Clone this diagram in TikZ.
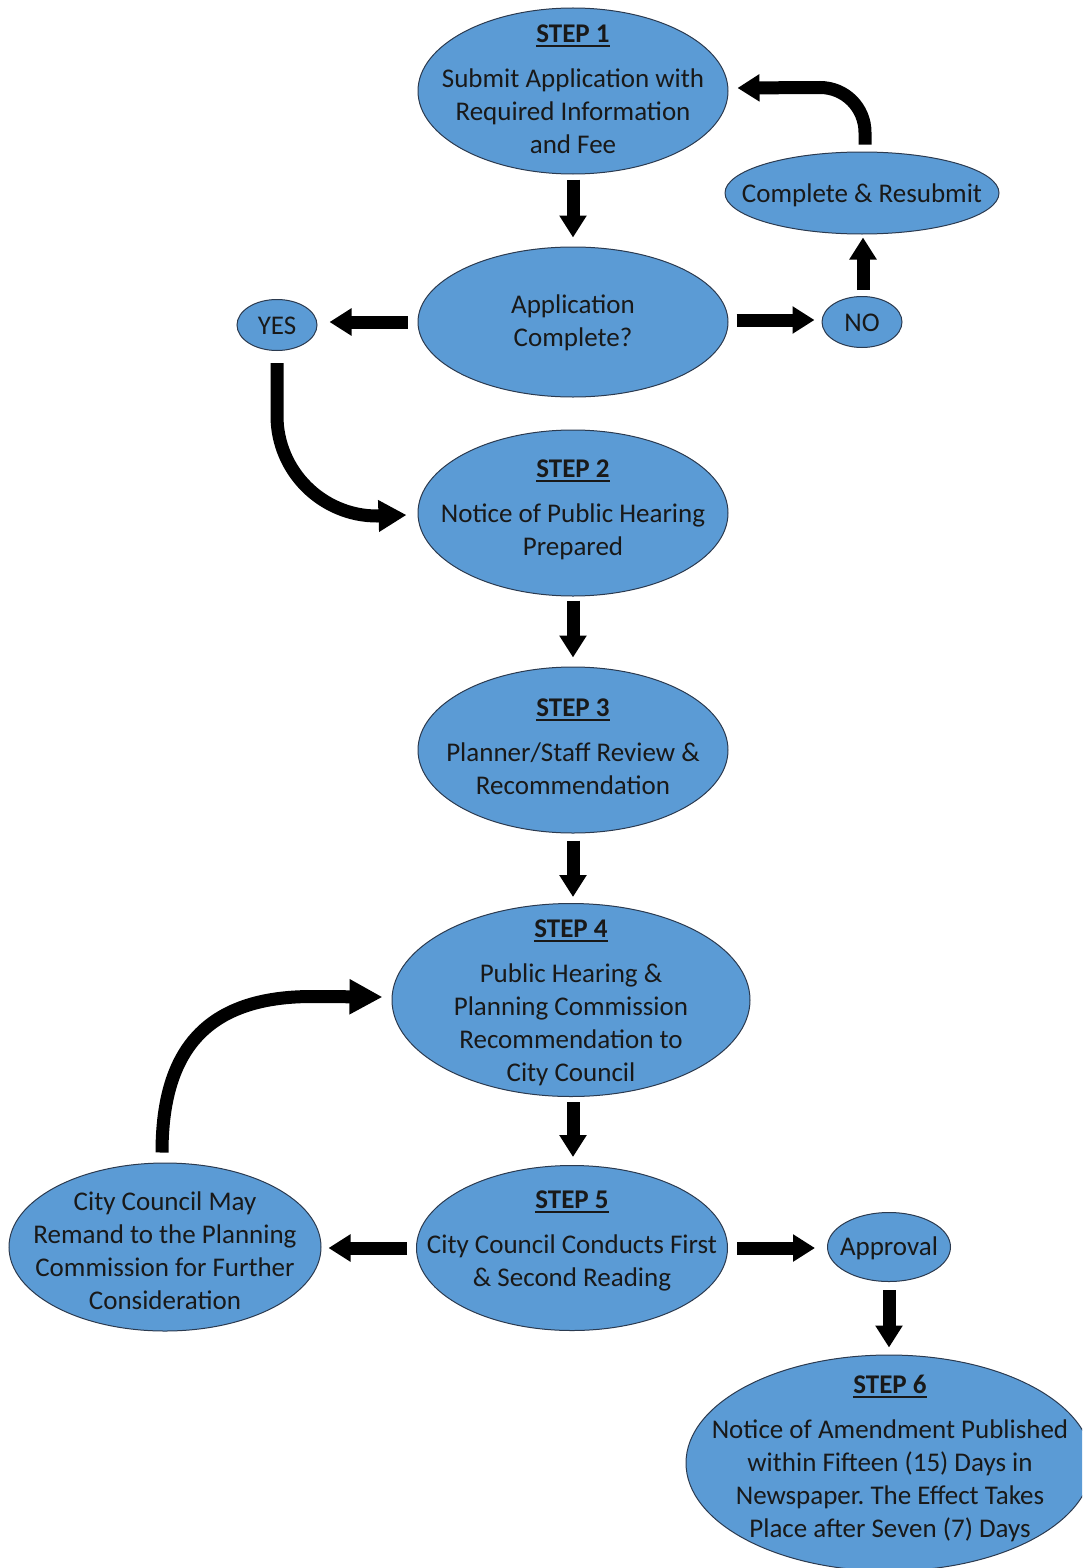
\documentclass[tikz,border=0pt]{standalone}
\usepackage{fontspec}
\setmainfont{Carlito}
\usetikzlibrary{arrows.meta,shapes.geometric,calc}
\definecolor{bubfill}{HTML}{5B9BD5}
\definecolor{bubline}{HTML}{2B3A4F}
\newcommand\stp[1]{\setbox0\hbox{\bfseries #1}\rlap{\rule[-4pt]{\wd0}{1.8pt}}\box0}
\frenchspacing
\begin{document}
\begin{tikzpicture}[x=1pt,y=-1pt,
  bub/.style={ellipse, draw=bubline, line width=1pt, fill=bubfill, inner sep=0pt},
  txt/.style={align=center, font=\fontsize{27}{33}\selectfont, text=black!90, inner sep=0pt, anchor=north},
  blk/.style={line width=13pt, -{Triangle[width=26pt,length=22pt]}},
  blkc/.style={line width=13pt, -{Triangle[width=30pt,length=28pt]}},
  blkr/.style={line width=13pt, -{Triangle[width=33pt,length=33pt]}}]

\useasboundingbox (0,0) rectangle (1082,1568);
\clip (0,0) rectangle (1082,1568);

% ellipses
\node[bub, minimum width=310pt, minimum height=166pt] (s1) at (573,91) {};
\node[bub, minimum width=310pt, minimum height=150pt] (app) at (573,322) {};
\node[bub, minimum width=80pt, minimum height=51pt] (yes) at (277,325) {};
\node[bub, minimum width=80pt, minimum height=51pt] (no) at (862,322) {};
\node[bub, minimum width=274pt, minimum height=82pt] (cr) at (862,193) {};
\node[bub, minimum width=310pt, minimum height=166pt] (s2) at (573,513) {};
\node[bub, minimum width=310pt, minimum height=166pt] (s3) at (573,750) {};
\node[bub, minimum width=358pt, minimum height=193pt] (s4) at (571,1000) {};
\node[bub, minimum width=311pt, minimum height=165pt] (s5) at (572,1248) {};
\node[bub, minimum width=312pt, minimum height=168pt] (rem) at (165,1247) {};
\node[bub, minimum width=123pt, minimum height=69pt] (appr) at (889,1247) {};
\node[bub, minimum width=406pt, minimum height=216pt] (s6) at (889,1463) {};

% texts
\node[txt] (t1) at (573,19.5) {\stp{STEP 1}\strut\\[12pt]Submit Application with\\Required Information\\and Fee};
\node[txt] (tapp) at (573,290.5) {Application\strut\\Complete?};
\node[txt] (tyes) at (277,311.5) {YES\strut};
\node[txt] (tno) at (862,308.5) {NO\strut};
\node[txt] (tcr) at (862,179.5) {Complete \& Resubmit\strut};
\node[txt] (t2) at (573,454.5) {\stp{STEP 2}\strut\\[12pt]Notice of Public Hearing\\Prepared};
\node[txt] (t3) at (573,693.5) {\stp{STEP 3}\strut\\[12pt]Planner/Staff Review \&\\Recommendation};
\node[txt] (t4) at (571,914.5) {\stp{STEP 4}\strut\\[12pt]Public Hearing \&\\Planning Commission\\Recommendation to\\City Council};
\node[txt] (t5) at (572,1185.5) {\stp{STEP 5}\strut\\[12pt]City Council Conducts First\\\& Second Reading};
\node[txt] (trem) at (165,1187.5) {City Council May\strut\\Remand to the Planning\\Commission for Further\\Consideration};
\node[txt] (tappr) at (889,1232.5) {Approval\strut};
\node[txt] (t6) at (890,1370.5) {\stp{STEP 6}\strut\\[12pt]Notice of Amendment Published\\within Fifteen (15) Days in\\Newspaper. The Effect Takes\\Place after Seven (7) Days};

% straight arrows
\draw[blk, shorten <=5pt, shorten >=9pt] (s1.south) -- (app.north);
\draw[blk, shorten <=10pt, shorten >=12pt] (app.west) -- (app.west -| yes.east);
\draw[blk, shorten <=8pt, shorten >=7pt] ([yshift=2pt]app.east) -- ([yshift=2pt]app.east -| no.west);
\draw[blk, shorten <=6pt, shorten >=3pt] ([xshift=1pt]no.north) -- ([xshift=1pt]no.north |- cr.south);
\draw[blk, shorten <=4pt, shorten >=9pt] (s2.south) -- (s3.north);
\draw[blk, shorten <=7pt, shorten >=6pt] (s3.south) -- (s3.south |- s4.north);
\draw[blk, shorten <=5pt, shorten >=8pt] ([xshift=2pt]s4.south) -- ([xshift=2pt]s4.south |- s5.north);
\draw[blk, shorten <=9pt, shorten >=7pt] (s5.west) -- (s5.west -| rem.east);
\draw[blk, shorten <=9pt, shorten >=12pt] (s5.east) -- (s5.east -| appr.west);
\draw[blk, shorten <=8pt, shorten >=7pt] (appr.south) -- (appr.south |- s6.north);

% curved arrows
\coordinate (crT) at ([xshift=3pt,yshift=7pt]cr.north);
\draw[blk] (crT) -- ($(crT)+(0,-12)$) .. controls ($(crT)+(0,-37)$) and ($(crT)+(-20,-57)$) .. ($(crT)+(-45,-57)$) -- ([xshift=9pt,yshift=3pt]s1.east);

\coordinate (yb) at ([yshift=-12pt]yes.south);
\draw[blkc] (yb) -- ($(yb)+(0,53)$) .. controls ($(yb)+(0,108)$) and ($(yb)+(45,153)$) .. ($(yb)+(100,153)$) -- ([xshift=-11pt,yshift=-2pt]s2.west);

\coordinate (rt) at ([xshift=-3pt,yshift=10pt]rem.north);
\draw[blkr] (rt) .. controls ($(rt)+(0,-103)$) and ($(rt)+(45,-156)$) .. ($(rt)+(150,-156)$) -- ([xshift=-9pt,yshift=3pt]s4.west);
\end{tikzpicture}
\end{document}
